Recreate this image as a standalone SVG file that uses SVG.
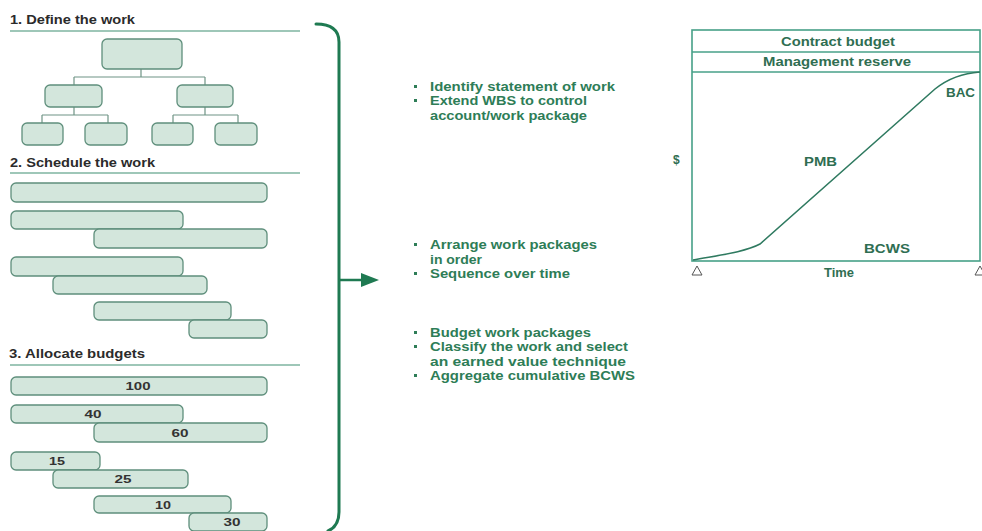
<svg xmlns="http://www.w3.org/2000/svg" width="982" height="531" viewBox="0 0 982 531">
  <style>
    .bg { fill: #ffffff; }
    text { font-family: "Liberation Sans", Arial, sans-serif; font-weight: bold; }
    .head { font-size: 12px; fill: #2b2b2b; }
    .rule { stroke: #3f8f72; stroke-width: 1.2; fill: none; }
    .box { fill: #d3e6dc; stroke: #5f8f7c; stroke-width: 1.3; }
    .link { stroke: #6f9485; stroke-width: 1.2; fill: none; }
    .num { font-size: 11.5px; fill: #333333; text-anchor: middle; }
    .bullet { font-size: 12px; fill: #2e7d57; }
    .dot { fill: #2e7d57; }
    .brace { stroke: #1f7a52; stroke-width: 3; fill: none; stroke-linecap: round; }
    .frame { stroke: #47a088; stroke-width: 1.6; fill: none; }
    .curve { stroke: #2f7a60; stroke-width: 1.6; fill: none; }
    .lbl { font-size: 12px; fill: #2f6e52; }
    .tri { fill: none; stroke: #555555; stroke-width: 1; }
  </style>
  <defs>
    <marker id="arrowHead" markerWidth="18" markerHeight="16" refX="0" refY="8" orient="auto" markerUnits="userSpaceOnUse">
      <path d="M0,1 L18,8 L0,15 Z" fill="#1f7a52"/>
    </marker>
  </defs>
  <rect class="bg" x="0" y="0" width="982" height="531"/>

  <!-- Step 1: define the work (WBS tree) -->
  <g id="step1">
    <text class="head" x="10" y="24" textLength="125" lengthAdjust="spacingAndGlyphs">1. Define the work</text>
    <line class="rule" x1="10" y1="31" x2="300" y2="31"/>
  </g>
  <g id="wbs-links">
    <path class="link" d="M141,69 V77 M74,77 H205 M74,77 V85 M205,77 V85"/>
    <path class="link" d="M74,107 V115 M42,115 H108 M42,115 V123 M108,115 V123"/>
    <path class="link" d="M205,107 V115 M173,115 H238 M173,115 V123 M238,115 V123"/>
  </g>
  <g id="wbs-root"><rect class="box" x="102" y="39" width="80" height="30" rx="5"/></g>
  <g id="wbs-l1a"><rect class="box" x="45" y="85" width="57" height="22" rx="5"/></g>
  <g id="wbs-l1b"><rect class="box" x="177" y="85" width="56" height="22" rx="5"/></g>
  <g id="wbs-l2a"><rect class="box" x="22" y="123" width="41" height="22" rx="5"/></g>
  <g id="wbs-l2b"><rect class="box" x="85" y="123" width="42" height="22" rx="5"/></g>
  <g id="wbs-l2c"><rect class="box" x="152" y="123" width="41" height="22" rx="5"/></g>
  <g id="wbs-l2d"><rect class="box" x="215" y="123" width="42" height="22" rx="5"/></g>

  <!-- Step 2: schedule the work -->
  <g id="step2">
    <text class="head" x="10" y="167" textLength="145" lengthAdjust="spacingAndGlyphs">2. Schedule the work</text>
    <line class="rule" x1="10" y1="173" x2="300" y2="173"/>
  </g>
  <g id="sched-1"><rect class="box" x="11" y="183" width="256" height="19" rx="5"/></g>
  <g id="sched-2"><rect class="box" x="11" y="211" width="172" height="18" rx="5"/></g>
  <g id="sched-3"><rect class="box" x="94" y="229" width="173" height="19" rx="5"/></g>
  <g id="sched-4"><rect class="box" x="11" y="257" width="172" height="19" rx="5"/></g>
  <g id="sched-5"><rect class="box" x="53" y="276" width="154" height="18" rx="5"/></g>
  <g id="sched-6"><rect class="box" x="94" y="302" width="137" height="18" rx="5"/></g>
  <g id="sched-7"><rect class="box" x="189" y="320" width="78" height="18" rx="5"/></g>

  <!-- Step 3: allocate budgets -->
  <g id="step3">
    <text class="head" x="9" y="358" textLength="136" lengthAdjust="spacingAndGlyphs">3. Allocate budgets</text>
    <line class="rule" x1="10" y1="365" x2="300" y2="365"/>
  </g>
  <g id="budget-100"><rect class="box" x="11" y="377" width="256" height="18" rx="5"/><text class="num" x="138" y="390" textLength="25" lengthAdjust="spacingAndGlyphs">100</text></g>
  <g id="budget-40"><rect class="box" x="11" y="405" width="172" height="18" rx="5"/><text class="num" x="93" y="418" textLength="17" lengthAdjust="spacingAndGlyphs">40</text></g>
  <g id="budget-60"><rect class="box" x="94" y="423" width="173" height="19" rx="5"/><text class="num" x="180" y="437" textLength="17" lengthAdjust="spacingAndGlyphs">60</text></g>
  <g id="budget-15"><rect class="box" x="11" y="452" width="89" height="18" rx="5"/><text class="num" x="57" y="465" textLength="16" lengthAdjust="spacingAndGlyphs">15</text></g>
  <g id="budget-25"><rect class="box" x="53" y="470" width="135" height="18" rx="5"/><text class="num" x="123" y="483" textLength="17" lengthAdjust="spacingAndGlyphs">25</text></g>
  <g id="budget-10"><rect class="box" x="94" y="496" width="137" height="17" rx="5"/><text class="num" x="163" y="509" textLength="16" lengthAdjust="spacingAndGlyphs">10</text></g>
  <g id="budget-30"><rect class="box" x="189" y="513" width="78" height="18" rx="5"/><text class="num" x="232" y="526" textLength="17" lengthAdjust="spacingAndGlyphs">30</text></g>

  <!-- Brace collecting the three steps, with its arrow -->
  <g id="connectors">
    <path class="brace" d="M316,24 C331,24 339,30 339,42 L339,512 C339,522 335,528 328,531"/>
    <line x1="339" y1="280" x2="361" y2="280" stroke="#1f7a52" stroke-width="2.5" marker-end="url(#arrowHead)"/>
  </g>

  <!-- Bullet notes -->
  <g id="notes-define">
    <rect class="dot" x="414" y="85" width="3" height="3"/>
    <text class="bullet" x="430" y="91" textLength="185" lengthAdjust="spacingAndGlyphs">Identify statement of work</text>
    <rect class="dot" x="414" y="99" width="3" height="3"/>
    <text class="bullet" x="430" y="105" textLength="157" lengthAdjust="spacingAndGlyphs">Extend WBS to control</text>
    <text class="bullet" x="430" y="120" textLength="157" lengthAdjust="spacingAndGlyphs">account/work package</text>
  </g>
  <g id="notes-schedule">
    <rect class="dot" x="414" y="243" width="3" height="3"/>
    <text class="bullet" x="430" y="249" textLength="167" lengthAdjust="spacingAndGlyphs">Arrange work packages</text>
    <text class="bullet" x="430" y="264" textLength="52" lengthAdjust="spacingAndGlyphs">in order</text>
    <rect class="dot" x="414" y="272" width="3" height="3"/>
    <text class="bullet" x="430" y="278" textLength="140" lengthAdjust="spacingAndGlyphs">Sequence over time</text>
  </g>
  <g id="notes-budget">
    <rect class="dot" x="414" y="331" width="3" height="3"/>
    <text class="bullet" x="430" y="337" textLength="161" lengthAdjust="spacingAndGlyphs">Budget work packages</text>
    <rect class="dot" x="414" y="345" width="3" height="3"/>
    <text class="bullet" x="430" y="351" textLength="198" lengthAdjust="spacingAndGlyphs">Classify the work and select</text>
    <text class="bullet" x="430" y="366" textLength="196" lengthAdjust="spacingAndGlyphs">an earned value technique</text>
    <rect class="dot" x="414" y="374" width="3" height="3"/>
    <text class="bullet" x="430" y="380" textLength="205" lengthAdjust="spacingAndGlyphs">Aggregate cumulative BCWS</text>
  </g>

  <!-- Performance measurement baseline chart -->
  <g id="chart">
    <rect class="frame" x="692" y="30" width="288" height="231"/>
    <line class="frame" x1="692" y1="52" x2="980" y2="52"/>
    <line class="frame" x1="692" y1="72" x2="980" y2="72"/>
    <text class="lbl" x="781" y="46" textLength="114" lengthAdjust="spacingAndGlyphs">Contract budget</text>
    <text class="lbl" x="763" y="66" textLength="148" lengthAdjust="spacingAndGlyphs">Management reserve</text>
    <path class="curve" d="M693,260 C720,255 745,252 760,244 L935,89 C950,77 965,73 980,72"/>
    <text class="lbl" x="946" y="97" textLength="29" lengthAdjust="spacingAndGlyphs">BAC</text>
    <text class="lbl" x="804" y="166" textLength="33" lengthAdjust="spacingAndGlyphs">PMB</text>
    <text class="lbl" x="864" y="253" textLength="46" lengthAdjust="spacingAndGlyphs">BCWS</text>
    <text class="lbl" x="673" y="164" fill="#555555" font-size="10">$</text>
    <text class="lbl" x="824" y="277" textLength="30" lengthAdjust="spacingAndGlyphs">Time</text>
    <polygon class="tri" points="692,275 702,275 697,266"/>
    <polygon class="tri" points="975,275 985,275 980,266"/>
  </g>
</svg>
